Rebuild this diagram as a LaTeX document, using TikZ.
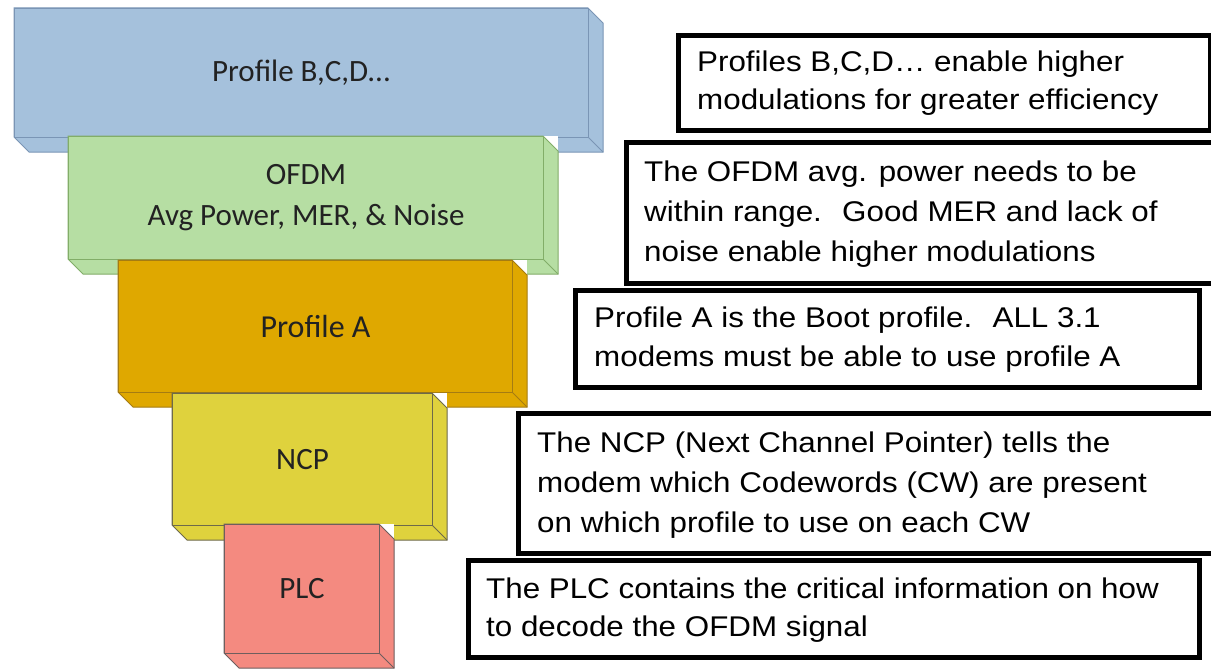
\documentclass[tikz,border=0pt]{standalone}
\usepackage{fontspec}
\newfontfamily\labelfont{Carlito}
\newfontfamily\descfont[FakeStretch=1.1]{Liberation Sans}
\definecolor{bfill}{HTML}{A5C1DC}
\definecolor{bedge}{HTML}{7A95B5}
\definecolor{gfill}{HTML}{B6DEA3}
\definecolor{gedge}{HTML}{82AD68}
\definecolor{ofill}{HTML}{DFA800}
\definecolor{oedge}{HTML}{A57C12}
\definecolor{yfill}{HTML}{DFD23D}
\definecolor{yedge}{HTML}{6E6A4A}
\definecolor{pfill}{HTML}{F48A80}
\definecolor{pedge}{HTML}{6E5E5E}
\definecolor{labeltext}{HTML}{222222}
\tikzset{
  face/.style={inner sep=0pt, line width=1pt, align=center,
    font=\labelfont\fontsize{31}{41}\selectfont, text=labeltext},
  descbox/.style={draw=black, line width=5pt, fill=white, inner sep=0pt},
  descline/.style={anchor=base west, inner sep=0pt,
    font=\descfont\fontsize{28.5}{38}\selectfont}
}
% #1 name, #2 xl, #3 yt, #4 xr, #5 yb, #6 fill, #7 edge, #8 text
\newcommand\slab[8]{%
  \fill[white] (#2,#3) rectangle (#4+15,#5+15);
  \filldraw[fill=#6, draw=#7, line width=1pt, line join=miter]
    (#2,#3) -- (#4,#3) -- (#4+15,#3+15) -- (#4+15,#5+15)
    -- (#2+15,#5+15) -- (#2,#5) -- cycle;
  \draw[#7, line width=1pt] (#4,#5) -- (#4+15,#5+15);
  \node[face, draw=#7, fill=#6, minimum width=#4-#2, minimum height=#5-#3,
    anchor=north west] (#1) at (#2,#3) {#8};
}
\begin{document}
\begin{tikzpicture}[x=1pt, y=-1pt]
\useasboundingbox[fill=white] (0,0) rectangle (1211,669);

% stacked 3D slabs
\slab{profbcd}{14}{8}{588}{137}{bfill}{bedge}{Profile B,C,D...}
\slab{ofdm}{68}{136}{543}{259}{gfill}{gedge}{OFDM\\Avg Power, MER, \& Noise}
\slab{profa}{118}{260}{512}{392}{ofill}{oedge}{\fontsize{32}{40}\selectfont Profile A}
\slab{ncp}{172}{393}{432}{525}{yfill}{yedge}{NCP}
\slab{plc}{224}{524}{379}{653}{pfill}{pedge}{PLC}

% description boxes
\node[descbox, anchor=north west, minimum width=532, minimum height=95] (d1) at (676,33) {};
\node[descline] (d1a) at (697,72) {Profiles B,C,D… enable higher};
\node[descline] (d1b) at (697,110) {modulations for greater efficiency};

\node[descbox, anchor=north west, minimum width=600, minimum height=141] (d2) at (624,140) {};
\node[descline] (d2a) at (644,181) {The OFDM avg. power needs to be};
\node[descline] (d2b) at (644,221) {within range.~ Good MER and lack of};
\node[descline] (d2c) at (644,261) {noise enable higher modulations};

\node[descbox, anchor=north west, minimum width=624, minimum height=97] (d3) at (573,288) {};
\node[descline] (d3a) at (594,327) {Profile A is the Boot profile.~ ALL 3.1};
\node[descline] (d3b) at (594,366) {modems must be able to use profile A};

\node[descbox, anchor=north west, minimum width=710, minimum height=140] (d4) at (516,411) {};
\node[descline] (d4a) at (537,452) {The NCP (Next Channel Pointer) tells the};
\node[descline] (d4b) at (537,492) {modem which Codewords (CW) are present};
\node[descline] (d4c) at (537,532) {on which profile to use on each CW};

\node[descbox, anchor=north west, minimum width=731, minimum height=97] (d5) at (466,558) {};
\node[descline] (d5a) at (486,598) {The PLC contains the critical information on how};
\node[descline] (d5b) at (486,636) {to decode the OFDM signal};
\end{tikzpicture}
\end{document}
